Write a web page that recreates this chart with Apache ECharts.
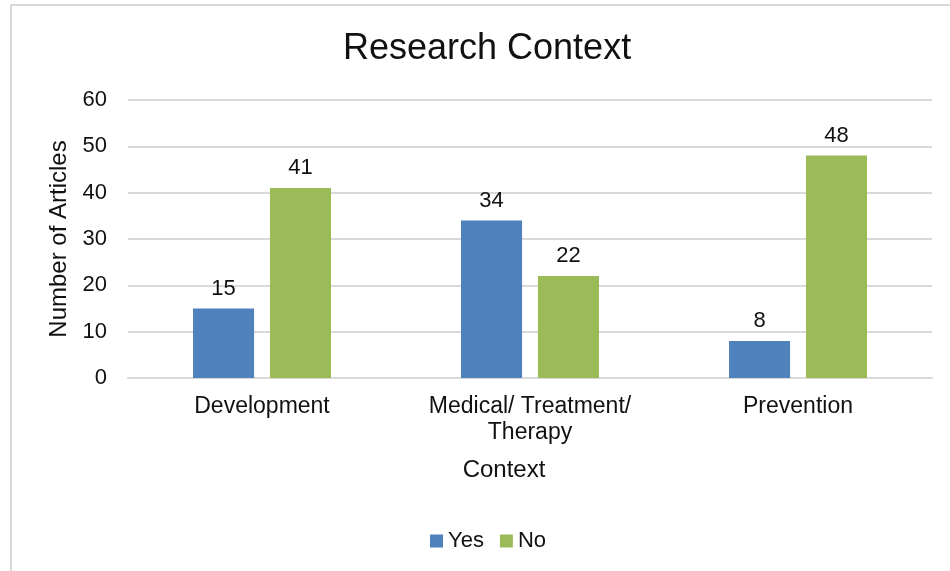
<!doctype html>
<html lang="en">
  <head>
    <meta charset="UTF-8" />
    <title>Research Context</title>
    <style>
      html, body { margin: 0; padding: 0; background: #fff; }
      #chart1 { width: 950px; height: 571px; }
    </style>
  </head>
  <body>
    <div id="chart1"></div>
    <script src="https://cdn.jsdelivr.net/npm/echarts@6/dist/echarts.min.js"></script>
    <script>
      // data
      const categories = ["Development", "Medical/ Treatment/\nTherapy", "Prevention"];
      const yesValues = [15, 34, 8];
      const noValues = [41, 22, 48];
      const seriesNames = ["Yes", "No"];

      const font = "Liberation Sans, Arial, sans-serif";
      const textColor = "#111";

      const myChart = echarts.init(document.querySelector("#chart1"));

      const barLabel = {
        show: true,
        position: "top",
        distance: 9,
        color: textColor,
        fontFamily: font,
        fontSize: 22,
      };

      const option = {
        animation: false,
        textStyle: { fontFamily: font },
        graphic: [
          {
            type: "rect",
            shape: { x: 11, y: 5, width: 960, height: 600 },
            style: { fill: "none", stroke: "#d9d9d9", lineWidth: 2 },
            silent: true,
          },
        ],
        title: {
          text: "Research Context",
          left: 338,
          top: 26,
          textStyle: {
            fontFamily: font,
            fontSize: 36,
            fontWeight: "normal",
            color: textColor,
          },
        },
        legend: {
          data: seriesNames,
          bottom: 14,
          left: 425,
          itemWidth: 13,
          itemHeight: 13,
          itemGap: 16,
          icon: "rect",
          textStyle: { fontFamily: font, fontSize: 22, color: textColor },
        },
        grid: { left: 128, right: 18, top: 100, bottom: 193 },
        xAxis: {
          type: "category",
          data: categories,
          name: "Context",
          nameLocation: "middle",
          nameGap: 80,
          nameTextStyle: {
            fontFamily: font,
            fontSize: 24,
            color: textColor,
            padding: [0, 52, 0, 0],
          },
          axisLine: { lineStyle: { color: "#d9d9d9", width: 2 } },
          axisTick: { show: false },
          axisLabel: {
            margin: 16,
            lineHeight: 26,
            fontFamily: font,
            fontSize: 23,
            color: textColor,
            interval: 0,
          },
        },
        yAxis: {
          type: "value",
          min: 0,
          max: 60,
          interval: 10,
          name: "Number of Articles",
          nameLocation: "middle",
          nameGap: 56,
          nameTextStyle: { fontFamily: font, fontSize: 24, color: textColor },
          axisLine: { show: false },
          axisTick: { show: false },
          axisLabel: { margin: 21, fontFamily: font, fontSize: 22, color: textColor },
          splitLine: { lineStyle: { color: "#d9d9d9", width: 2 } },
        },
        series: [
          {
            name: seriesNames[0],
            type: "bar",
            data: yesValues,
            itemStyle: { color: "#4f81bd" },
            barGap: "26%",
            barCategoryGap: "48.5%",
            label: barLabel,
          },
          {
            name: seriesNames[1],
            type: "bar",
            data: noValues,
            itemStyle: { color: "#9bbb59" },
            label: barLabel,
          },
        ],
      };

      myChart.setOption(option);
    </script>
  </body>
</html>
